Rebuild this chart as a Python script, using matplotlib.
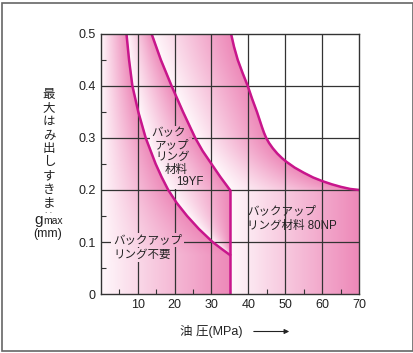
import numpy as np
import matplotlib
matplotlib.use("Agg")
import matplotlib.pyplot as plt
from matplotlib.patches import Rectangle

plt.rcParams['font.family'] = ['Liberation Sans', 'Noto Sans CJK JP', 'DejaVu Sans']

# Boundary curves: oil pressure (MPa) vs max extrusion gap (mm)
c1_x = [7.0, 7.7, 8.6, 10.2, 12.2, 14.9, 16.5, 18.3, 20.6, 23.4, 26.6, 30.3, 32.7, 35.0]
c1_y = [0.5, 0.45, 0.4, 0.35, 0.3, 0.25, 0.225, 0.2, 0.175, 0.15, 0.125, 0.1, 0.087, 0.075]
c2_x = [13.8, 16.3, 19.2, 22.3, 25.6, 27.6, 30.0, 32.4, 35.0]
c2_y = [0.5, 0.45, 0.4, 0.35, 0.3, 0.275, 0.25, 0.225, 0.2]
c3_x = [35.3, 36.1, 37.1, 38.4, 39.8, 41.0, 42.3, 43.0, 43.7, 44.2, 44.8, 45.6, 46.6, 47.8,
        49.1, 50.3, 52.5, 55.0, 57.5, 60.0, 62.5, 65.0, 67.5, 70.0]
c3_y = [0.5, 0.475, 0.45, 0.425, 0.4, 0.375, 0.35, 0.335, 0.32, 0.31, 0.3, 0.29, 0.28, 0.27,
        0.261, 0.254, 0.243, 0.233, 0.224, 0.217, 0.211, 0.206, 0.202, 0.2]
split_x = 35.0      # 19YF / 80NP limit
split_top = 0.2

x_ticks = [10, 20, 30, 40, 50, 60, 70]
y_ticks = [0, 0.1, 0.2, 0.3, 0.4, 0.5]
y_labels = ["0", "0.1", "0.2", "0.3", "0.4", "0.5"]

line_col = "#c8168c"
grid_col = "#333333"
txt_col = "#222222"

fig = plt.figure(figsize=(4.14, 3.53), dpi=100)
ax = fig.add_axes([0.243, 0.167, 0.625, 0.737])

# gradient shading, normalised row by row inside each zone
xs = np.linspace(0, 70, 1400)
ys = np.linspace(0, 0.5, 1000)
X = xs[None, :]
b1 = np.where(ys >= c1_y[-1], np.interp(ys, c1_y[::-1], c1_x[::-1]), split_x)[:, None]
b2 = np.where(ys >= split_top, np.interp(ys, c2_y[::-1], c2_x[::-1]), split_x)[:, None]
b3 = np.where(ys >= split_top, np.interp(ys, c3_y[::-1], c3_x[::-1]), 70.0)[:, None]

t = np.full((len(ys), len(xs)), np.nan)
with np.errstate(divide="ignore", invalid="ignore"):
    t = np.where(X < b1, X / b1, t)
    t = np.where((X >= b1) & (X < b2), (X - b1) / (b2 - b1), t)
    t = np.where((X >= b2) & (X < b3), (X - b2) / (b3 - b2), t)

light = np.array([255, 248, 251]) / 255
dark = np.array([237, 136, 184]) / 255
tt = np.nan_to_num(t, nan=0.0)[..., None]
rgb = light + (dark - light) * tt
rgb[np.isnan(t)] = 1.0

ext = [0, 70, 0, 0.5]
ax.imshow(rgb, extent=ext, origin="lower", aspect="auto", zorder=0, interpolation="bilinear")

# grid
for xv in x_ticks[:-1]:
    ax.axvline(xv, color=grid_col, lw=0.9, zorder=1)
for yv in y_ticks[1:-1]:
    ax.axhline(yv, color=grid_col, lw=0.9, zorder=1)

# curves
for cx, cy in [(c1_x, c1_y), (c2_x, c2_y), (c3_x, c3_y)]:
    ax.plot(cx, cy, color=line_col, lw=1.8, zorder=3, solid_joinstyle="round")
ax.plot([split_x, split_x], [0, split_top], color=line_col, lw=1.8, zorder=3, solid_capstyle="butt")

# zone labels
fs = 8.3
masked = []
for s, x, y in [("バック", 13.8, 0.309), ("アップ", 14.7, 0.287), ("リング", 14.7, 0.264),
                ("材料", 17.4, 0.238), ("19YF", 20.4, 0.2145)]:
    masked.append(ax.text(x, y, s, fontsize=fs, ha="left", va="center", zorder=4, color=txt_col))
for s, x, y in [("バックアップ", 3.4, 0.1037), ("リング不要", 3.4, 0.075)]:
    masked.append(ax.text(x, y, s, fontsize=fs, ha="left", va="center", zorder=4, color=txt_col))
ax.text(39.6, 0.159, "バックアップ", fontsize=fs, ha="left", va="center", zorder=4, color=txt_col)
ax.text(39.6, 0.130, "リング材料 80NP", fontsize=fs, ha="left", va="center", zorder=4, color=txt_col)

ax.set_xlim(0, 70)
ax.set_ylim(0, 0.5)
ax.set_xticks(x_ticks)
ax.set_xticks([5, 15, 25, 35, 45, 55, 65], minor=True)
ax.set_yticks(y_ticks)
ax.set_yticklabels(y_labels)
ax.set_yticks([0.05, 0.15, 0.25, 0.35, 0.45], minor=True)
ax.tick_params(which="major", length=0, labelsize=9, pad=3.5, colors=txt_col)
ax.tick_params(which="minor", length=3.5, width=0.8, direction="in", color=grid_col)
for sp in ax.spines.values():
    sp.set_color(grid_col)
    sp.set_linewidth(1.0)
    sp.set_zorder(5)

# knock the grid out behind the zone labels
fig.canvas.draw()
r = fig.canvas.get_renderer()
inv = ax.transData.inverted()
for txt in masked:
    bb = txt.get_window_extent(r)
    (x0, y0), (x1, y1) = inv.transform([(bb.x0 - 2, bb.y0 - 1), (bb.x1 + 2, bb.y1 + 1)])
    clip = Rectangle((x0, y0), x1 - x0, y1 - y0, transform=ax.transData)
    im = ax.imshow(rgb, extent=ext, origin="lower", aspect="auto", zorder=2, interpolation="bilinear")
    im.set_clip_path(clip)
ax.set_xlim(0, 70)
ax.set_ylim(0, 0.5)

# vertical y-axis title
W, H = 414, 353
chars = "最大はみ出しすきま"
for i, ch in enumerate(chars):
    fig.text(49 / W, 1 - (95 + 13.5 * i) / H, ch, fontsize=9, ha="center", va="center", color=txt_col)
fig.text(49 / W, 1 - 213 / H, ". .", fontsize=6, ha="center", va="baseline", color=txt_col)
fig.text(34 / W, 1 - 224 / H, "g", fontsize=11, ha="left", va="baseline", color=txt_col)
fig.text(43.5 / W, 1 - 224 / H, "max", fontsize=7.5, ha="left", va="baseline", color=txt_col)
fig.text(48 / W, 1 - 234.5 / H, "(mm)", fontsize=9, ha="center", va="center", color=txt_col)

# x-axis title with arrow
fig.text(180 / W, 1 - 331.5 / H, "油 圧(MPa)", fontsize=9, ha="left", va="center", color=txt_col)
ax.annotate("", xy=(292, H - 331.5), xytext=(251, H - 331.5), xycoords="figure pixels",
            textcoords="figure pixels",
            arrowprops=dict(arrowstyle="-|>", color=txt_col, lw=0.8, mutation_scale=7))

# outer frame
fig.patches.append(Rectangle((2 / W, 2 / H), 411 / W, 348 / H, transform=fig.transFigure,
                             fill=False, edgecolor="#666666", lw=1.2))

plt.savefig("out.png", dpi=100)
